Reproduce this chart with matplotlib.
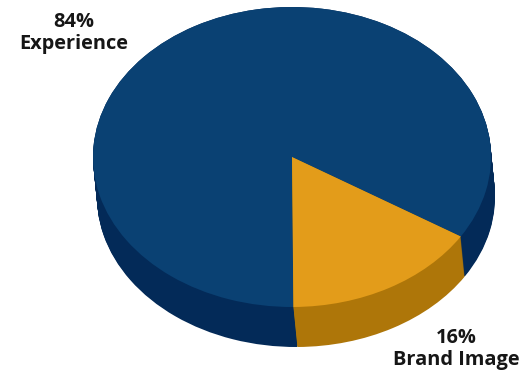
import matplotlib
matplotlib.use("Agg")
import matplotlib.pyplot as plt
import numpy as np

categories = ["Experience", "Brand Image"]
shares = [84, 16]
top_colors = ["#0A4173", "#E39C1A"]
side_colors = ["#032A58", "#AE7609"]

plt.rcParams["font.family"] = ["Open Sans", "DejaVu Sans"]

fig = plt.figure(figsize=(5.21, 3.73), dpi=100)
ax = fig.add_axes([0, 0, 1, 1])

START = -32
DEPTH = 40 / 150
SKEW = 4 / 199

# Stack darker copies downward to form the rim of the disc
for t in np.linspace(1, 0, 41):
    ax.pie(shares, colors=side_colors, startangle=START, radius=1,
           center=(SKEW * t, -DEPTH * t),
           wedgeprops=dict(linewidth=0.6, edgecolor="none"))

ax.pie(shares, colors=top_colors, startangle=START, radius=1, center=(0, 0),
       wedgeprops=dict(linewidth=0))

# Squash the circle into a tilted ellipse by giving up the equal aspect
ax.set_aspect("auto")
ax.set_xlim(-292 / 199, (521 - 292) / 199)
ax.set_ylim(-(373 - 157) / 150, 157 / 150)
ax.axis("off")

def label(px, py, text):
    ax.text((px - 292) / 199, (157 - py) / 150, text, ha="center", va="center",
            fontsize=14.4, fontweight="bold", color="#161616",
            linespacing=1.18)

label(74, 33, f"{shares[0]}%\n{categories[0]}")
label(456, 349, f"{shares[1]}%\n{categories[1]}")

fig.savefig("out.png", dpi=100, facecolor="white")
